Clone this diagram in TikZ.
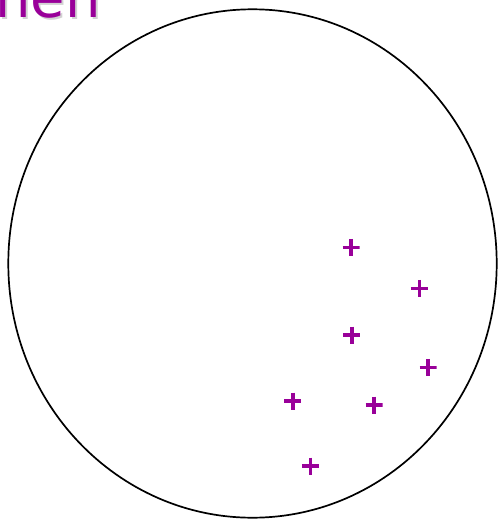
\documentclass[tikz,border=0pt]{standalone}
\usepackage{fontspec}
\newfontfamily\titlefont{DejaVu Sans}
\definecolor{plum}{HTML}{990099}
\tikzset{
  plusmark/.style={minimum size=17pt, inner sep=0pt,
    path picture={\draw[plum, line width=3.6pt] (path picture bounding box.west) -- (path picture bounding box.east)
      (path picture bounding box.north) -- (path picture bounding box.south);}},
  rim/.style={draw=black, line width=1.7pt},
  titletext/.style={anchor=base west, inner sep=0pt, font=\titlefont\fontsize{56}{60}\selectfont},
}
\begin{document}
\begin{tikzpicture}[x=1pt,y=-1pt]
\useasboundingbox (0,0) rectangle (498,519);
\node[titletext, text=gray!35] (shadow) at (-3,19.5) {hen};
\node[titletext, text=plum] (title) at (-5,17.5) {hen};
\draw[rim] (252.5,263.5) ellipse [x radius=244.2, y radius=254.2];
\foreach \n/\x/\y in {1/351/247.3, 2/419.3/288.3, 3/351.7/335, 4/428/367.3, 5/292.7/401, 6/374/405, 7/310.3/466}
  \node[plusmark] (p\n) at (\x,\y) {};
\end{tikzpicture}
\end{document}
